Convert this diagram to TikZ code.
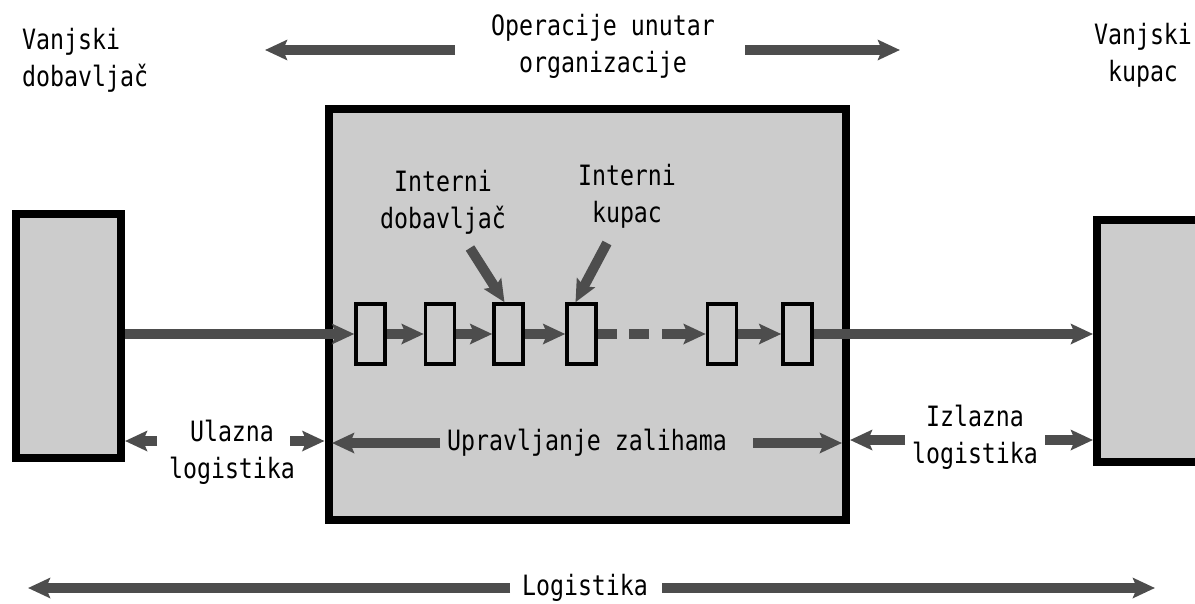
\documentclass[tikz,border=0pt]{standalone}
\usepackage{fontspec}
\newfontfamily\monof[FakeStretch=0.83]{DejaVu Sans Mono}
\usetikzlibrary{arrows.meta}
\definecolor{boxgray}{HTML}{CCCCCC}
\definecolor{arrgray}{HTML}{4D4D4D}
\tikzset{
  bigbox/.style={draw=black, fill=boxgray, line width=8pt, inner sep=0pt},
  smallbox/.style={draw=black, fill=boxgray, line width=3.5pt, minimum width=29pt, minimum height=60pt, inner sep=0pt},
  arr/.style={draw=arrgray, line width=10pt, -{Stealth[length=22pt,width=20pt,inset=4pt]}},
  lbl/.style={font=\monof\fontsize{28}{37}\selectfont, inner sep=0pt, align=center},
}
\begin{document}
\begin{tikzpicture}[x=1pt,y=-1pt]
\useasboundingbox (0,0) rectangle (1195,603);
\clip (0,0) rectangle (1195,603);

% big boxes
\node[bigbox, minimum width=105pt, minimum height=244pt] (ls) at (68.5,336) {};
\node[bigbox, minimum width=517.5pt, minimum height=411pt] (cb) at (587.25,314.5) {};
\node[bigbox, minimum width=133pt, minimum height=242pt] (rs) at (1163.5,341) {};

% small boxes
\node[smallbox] (b1) at (370.5,334) {};
\node[smallbox] (b2) at (440,334) {};
\node[smallbox] (b3) at (508.5,334) {};
\node[smallbox] (b4) at (581.5,334) {};
\node[smallbox] (b5) at (722,334) {};
\node[smallbox] (b6) at (797.5,334) {};

% chain arrows
\draw[arr] (ls.east |- b1.west) -- (b1.west);
\draw[arr] (b1.east) -- (b2.west);
\draw[arr] (b2.east) -- (b3.west);
\draw[arr] (b3.east) -- (b4.west);
\draw[arr, dash pattern=on 19pt off 12pt on 20pt off 13pt on 200pt] (b4.east) -- (b5.west);
\draw[arr] (b5.east) -- (b6.west);
\draw[arr] (b6.east) -- (b6.east -| rs.west);

% labels
\node[lbl, align=left, anchor=west] (vd) at (22,60) {Vanjski\\dobavljač};
\node[lbl] (op) at (603,46) {Operacije unutar\\organizacije};
\node[lbl] (vk) at (1143,55) {Vanjski\\kupac};
\node[lbl] (id) at (443,202) {Interni\\dobavljač};
\node[lbl] (ik) at (627,196) {Interni\\kupac};
\node[lbl] (ul) at (232,452) {Ulazna\\logistika};
\node[lbl] (uz) at (587,443) {Upravljanje zalihama};
\node[lbl] (iz) at (975,437) {Izlazna\\logistika};
\node[lbl] (lg) at (585,588) {Logistika};

% top arrows
\coordinate (opl) at (455,50);
\coordinate (opr) at (745,50);
\coordinate (oplt) at (265,50);
\coordinate (oprt) at (900,50);
\draw[arr] (opl) -- (oplt);
\draw[arr] (opr) -- (oprt);

% internal pointers
\coordinate (ids) at (470,248);
\coordinate (iks) at (607,243);
\draw[arr] (ids) -- ([xshift=-4pt]b3.north);
\draw[arr] (iks) -- ([xshift=-6pt]b4.north);

% ulazna logistika
\coordinate (ula) at (157,441);
\coordinate (ulb) at (290,441);
\draw[arr] (ula) -- (ula -| ls.east);
\draw[arr] (ulb) -- (ulb -| cb.west);

% upravljanje zalihama
\coordinate (uza) at (440,443);
\coordinate (uzb) at (753,443);
\draw[arr] (uza) -- (332,443);
\draw[arr] (uzb) -- (842,443);

% izlazna logistika
\coordinate (iza) at (905,440);
\coordinate (izb) at (1045,440);
\draw[arr] (iza) -- (iza -| cb.east);
\draw[arr] (izb) -- (izb -| rs.west);

% logistika
\coordinate (lga) at (510,588);
\coordinate (lgb) at (662,588);
\coordinate (lgat) at (28,588);
\coordinate (lgbt) at (1155,588);
\draw[arr] (lga) -- (lgat);
\draw[arr] (lgb) -- (lgbt);
\end{tikzpicture}
\end{document}
